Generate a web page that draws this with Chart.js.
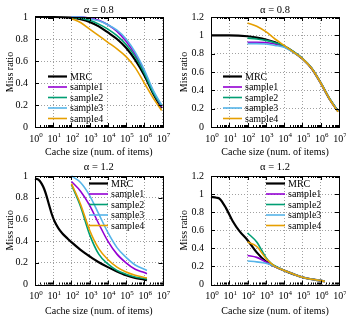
<!DOCTYPE html>
<html>
<head>
<meta charset="utf-8">
<script src="https://cdn.jsdelivr.net/npm/chart.js@4"></script>
<style>
body { margin: 0; background: #fff; }
#wrap { position: relative; width: 346px; height: 317px; }
canvas { position: absolute; }
</style>
</head>
<body>
<div id="wrap">
  <canvas id="c1" width="173" height="158" style="left:0;top:0"></canvas>
  <canvas id="c2" width="173" height="158" style="left:173px;top:0"></canvas>
  <canvas id="c3" width="173" height="159" style="left:0;top:158px"></canvas>
  <canvas id="c4" width="173" height="159" style="left:173px;top:158px"></canvas>
</div>
<script>
// series names + colours (gnuplot defaults)
const seriesNames = ['MRC', 'sample1', 'sample2', 'sample3', 'sample4'];
const lineColor = ['#000000', '#9400D3', '#009E73', '#56B4E9', '#E69F00'];
const decades = [1, 10, 100, 1e3, 1e4, 1e5, 1e6, 1e7];

// alpha = 0.8, left panel
const xMrc08 = [1, 10, 100, 316, 1e3, 3162, 1e4, 31623, 1e5, 316228, 1e6, 3162278, 9e6];
const xSmp08 = [100, 316, 1e3, 3162, 1e4, 31623, 1e5, 316228, 1e6, 3162278, 9e6];
const a08L_mrc = [1.0, 1.0, 0.995, 0.98, 0.955, 0.915, 0.86, 0.8, 0.72, 0.61, 0.47, 0.3, 0.17];
const a08L_s1 = [1.0, 1.0, 0.99, 0.97, 0.93, 0.87, 0.78, 0.66, 0.5, 0.32, 0.18];
const a08L_s2 = [0.995, 0.99, 0.97, 0.935, 0.89, 0.83, 0.75, 0.64, 0.49, 0.31, 0.19];
const a08L_s3 = [1.0, 1.0, 0.985, 0.965, 0.93, 0.88, 0.8, 0.68, 0.52, 0.33, 0.2];
const a08L_s4 = [0.985, 0.95, 0.89, 0.83, 0.77, 0.71, 0.64, 0.54, 0.4, 0.26, 0.15];

// alpha = 0.8, right panel
const a08R_mrc = [1.0, 1.0, 0.99, 0.975, 0.955, 0.925, 0.88, 0.82, 0.745, 0.64, 0.48, 0.3, 0.17];
const a08R_s1 = [0.925, 0.925, 0.92, 0.905, 0.875, 0.82, 0.745, 0.64, 0.48, 0.3, 0.17];
const a08R_s2 = [0.97, 0.96, 0.945, 0.92, 0.885, 0.825, 0.75, 0.645, 0.485, 0.305, 0.175];
const a08R_s3 = [0.91, 0.91, 0.905, 0.89, 0.87, 0.815, 0.745, 0.64, 0.48, 0.3, 0.17];
const a08R_s4 = [1.135, 1.1, 1.04, 0.96, 0.89, 0.82, 0.745, 0.64, 0.48, 0.3, 0.165];

// alpha = 1.2, left panel
const xMrc12L = [1, 1.6, 2.3, 3.2, 4.4, 6, 8.3, 12, 19, 32, 56, 100, 316, 1e3, 3162, 1e4, 31623, 1e5, 316228, 1e6, 1.4e6];
const xSmp12L = [100, 316, 1e3, 3162, 1e4, 31623, 1e5, 316228, 1e6, 1.4e6];
const a12L_mrc = [0.975, 0.965, 0.93, 0.88, 0.81, 0.73, 0.65, 0.58, 0.52, 0.47, 0.43, 0.39, 0.32, 0.26, 0.205, 0.16, 0.12, 0.085, 0.06, 0.045, 0.04];
const a12L_s1 = [0.95, 0.86, 0.73, 0.56, 0.4, 0.28, 0.2, 0.14, 0.11, 0.1];
const a12L_s2 = [0.92, 0.72, 0.46, 0.28, 0.19, 0.13, 0.095, 0.07, 0.055, 0.05];
const a12L_s3 = [1.0, 0.94, 0.82, 0.65, 0.48, 0.34, 0.25, 0.18, 0.14, 0.13];
const a12L_s4 = [0.93, 0.74, 0.5, 0.33, 0.23, 0.16, 0.115, 0.085, 0.065, 0.06];

// alpha = 1.2, right panel
const xMrc12R = [1, 2, 2.9, 6.6, 15.5, 36, 100, 316, 1e3, 3162, 1e4, 31623, 1e5, 316228, 1e6, 1.7e6];
const xSmp12R = [100, 316, 1e3, 2000, 3162, 1e4, 31623, 1e5, 316228, 1e6, 1.7e6];
const a12R_mrc = [0.97, 0.96, 0.95, 0.845, 0.7, 0.59, 0.49, 0.355, 0.255, 0.2, 0.155, 0.115, 0.08, 0.058, 0.043, 0.035];
const a12R_s1 = [0.32, 0.3, 0.25, 0.22, 0.2, 0.155, 0.115, 0.08, 0.058, 0.043, 0.035];
const a12R_s2 = [0.57, 0.47, 0.3, 0.23, 0.205, 0.155, 0.115, 0.08, 0.058, 0.043, 0.035];
const a12R_s3 = [0.26, 0.25, 0.235, 0.215, 0.2, 0.155, 0.115, 0.08, 0.058, 0.043, 0.035];
const a12R_s4 = [0.47, 0.42, 0.29, 0.23, 0.2, 0.155, 0.115, 0.08, 0.058, 0.043, 0.035];

const serif = '"Liberation Serif", "Times New Roman", serif';
Chart.defaults.font.family = serif;
Chart.defaults.color = '#000';

function pts(xs, ys) {
    return xs.map((x, i) => ({x: x, y: ys[i]}));
}

// box, inward ticks, 10^k labels and the in-plot legend
const framePlugin = {
    id: 'frame',
    afterDraw(chart, args, opts) {
        const ctx = chart.ctx;
        const a = chart.chartArea;
        const sx = chart.scales.x, sy = chart.scales.y;
        ctx.save();
        ctx.strokeStyle = '#000';
        ctx.lineWidth = 1;
        ctx.beginPath();
        for (let k = 0; k < 7; k++) {
            for (let m = 1; m < 10; m++) {
                const px = Math.round(sx.getPixelForValue(m * Math.pow(10, k))) + 0.5;
                const len = m == 1 ? 4 : 2;
                ctx.moveTo(px, a.bottom); ctx.lineTo(px, a.bottom - len);
                ctx.moveTo(px, a.top); ctx.lineTo(px, a.top + len);
            }
        }
        sy.ticks.forEach(t => {
            const py = Math.round(sy.getPixelForValue(t.value)) + 0.5;
            ctx.moveTo(a.left, py); ctx.lineTo(a.left + 4, py);
            ctx.moveTo(a.right, py); ctx.lineTo(a.right - 4, py);
        });
        ctx.stroke();
        ctx.strokeRect(Math.round(a.left) + 0.5, Math.round(a.top) + 0.5,
            Math.round(a.right - a.left), Math.round(a.bottom - a.top));

        // x tick labels with superscript exponent
        ctx.fillStyle = '#000';
        ctx.textBaseline = 'alphabetic';
        ctx.textAlign = 'left';
        decades.forEach((v, k) => {
            const px = sx.getPixelForValue(v);
            ctx.font = '10px ' + serif;
            const w1 = ctx.measureText('10').width;
            ctx.font = '7px ' + serif;
            const w2 = ctx.measureText(String(k)).width;
            const x0 = px - (w1 + w2) / 2 + 1;
            const yb = a.bottom + 14.5;
            ctx.font = '10px ' + serif;
            ctx.fillText('10', x0, yb);
            ctx.font = '7px ' + serif;
            ctx.fillText(String(k), x0 + w1, yb - 4.5);
        });

        // legend
        ctx.font = '10px ' + serif;
        ctx.textBaseline = 'middle';
        chart.data.datasets.forEach((ds, i) => {
            const y = opts.legY + i * opts.legGap;
            ctx.strokeStyle = ds.borderColor;
            ctx.lineWidth = ds.borderWidth;
            ctx.beginPath();
            ctx.moveTo(opts.legX, y);
            ctx.lineTo(opts.legX + 19, y);
            ctx.stroke();
            ctx.fillText(ds.label, opts.legX + 22, y + 0.5);
        });
        ctx.restore();
    }
};

function buildChart(id, title, ymax, mrcX, smpX, series, lay) {
    const datasets = series.map((ys, i) => ({
        label: seriesNames[i],
        data: pts(i == 0 ? mrcX : smpX, ys),
        borderColor: lineColor[i],
        borderWidth: i == 0 ? 2.2 : 1.6,
        pointRadius: 0,
        fill: false,
        cubicInterpolationMode: 'monotone',
        order: 5 - i,
        clip: 3
    }));
    return new Chart(document.getElementById(id), {
        type: 'line',
        data: {datasets: datasets},
        options: {
            responsive: false,
            animation: false,
            layout: {padding: {top: 0, right: lay.padRight, bottom: 0, left: 0}},
            plugins: {
                legend: {display: false},
                tooltip: {enabled: false},
                title: {
                    display: true, text: title, fullSize: false, color: '#000',
                    font: {size: 10.5, weight: 'normal'},
                    padding: lay.titlePad
                },
                frame: {legX: lay.legX, legY: lay.legY, legGap: 10.5}
            },
            scales: {
                x: {
                    type: 'logarithmic', min: 1, max: 1e7,
                    afterBuildTicks: s => { s.ticks = decades.map(v => ({value: v})); },
                    afterFit: s => { s.height = lay.xHeight; },
                    ticks: {display: false},
                    grid: {color: '#a0a0a0', lineWidth: 1, drawTicks: false},
                    border: {display: false, dash: [1, 2]},
                    title: {display: true, text: 'Cache size (num. of items)', color: '#000',
                            font: {size: 10}, padding: 0}
                },
                y: {
                    min: 0, max: ymax,
                    afterFit: s => { s.width = lay.yWidth; },
                    ticks: {stepSize: 0.2, padding: 7, color: '#000', font: {size: 10},
                            callback: v => String(+v.toFixed(1))},
                    grid: {color: '#a0a0a0', lineWidth: 1, drawTicks: false},
                    border: {display: false, dash: [1, 2]},
                    title: {display: true, text: 'Miss ratio', color: '#000',
                            font: {size: 10}, padding: {top: lay.yTitlePad, bottom: 0}}
                }
            }
        },
        plugins: [framePlugin]
    });
}

buildChart('c1', 'α = 0.8', 1, xMrc08, xSmp08,
    [a08L_mrc, a08L_s1, a08L_s2, a08L_s3, a08L_s4],
    {padRight: 10.5, yWidth: 35, xHeight: 31, titlePad: {top: 4, bottom: 0.4}, yTitlePad: 4, legX: 48, legY: 76.5});
buildChart('c2', 'α = 0.8', 1.2, xMrc08, xSmp08,
    [a08R_mrc, a08R_s1, a08R_s2, a08R_s3, a08R_s4],
    {padRight: 7, yWidth: 38, xHeight: 31, titlePad: {top: 4, bottom: 0.4}, yTitlePad: 5.5, legX: 50, legY: 76.5});
buildChart('c3', 'α = 1.2', 1, xMrc12L, xSmp12L,
    [a12L_mrc, a12L_s1, a12L_s2, a12L_s3, a12L_s4],
    {padRight: 10.5, yWidth: 35, xHeight: 32.5, titlePad: {top: 2.7, bottom: 2.7}, yTitlePad: 4, legX: 89, legY: 25.5});
buildChart('c4', 'α = 1.2', 1.2, xMrc12R, xSmp12R,
    [a12R_mrc, a12R_s1, a12R_s2, a12R_s3, a12R_s4],
    {padRight: 7, yWidth: 38, xHeight: 32.5, titlePad: {top: 2.7, bottom: 2.7}, yTitlePad: 5.5, legX: 93, legY: 25.5});
</script>
</body>
</html>
